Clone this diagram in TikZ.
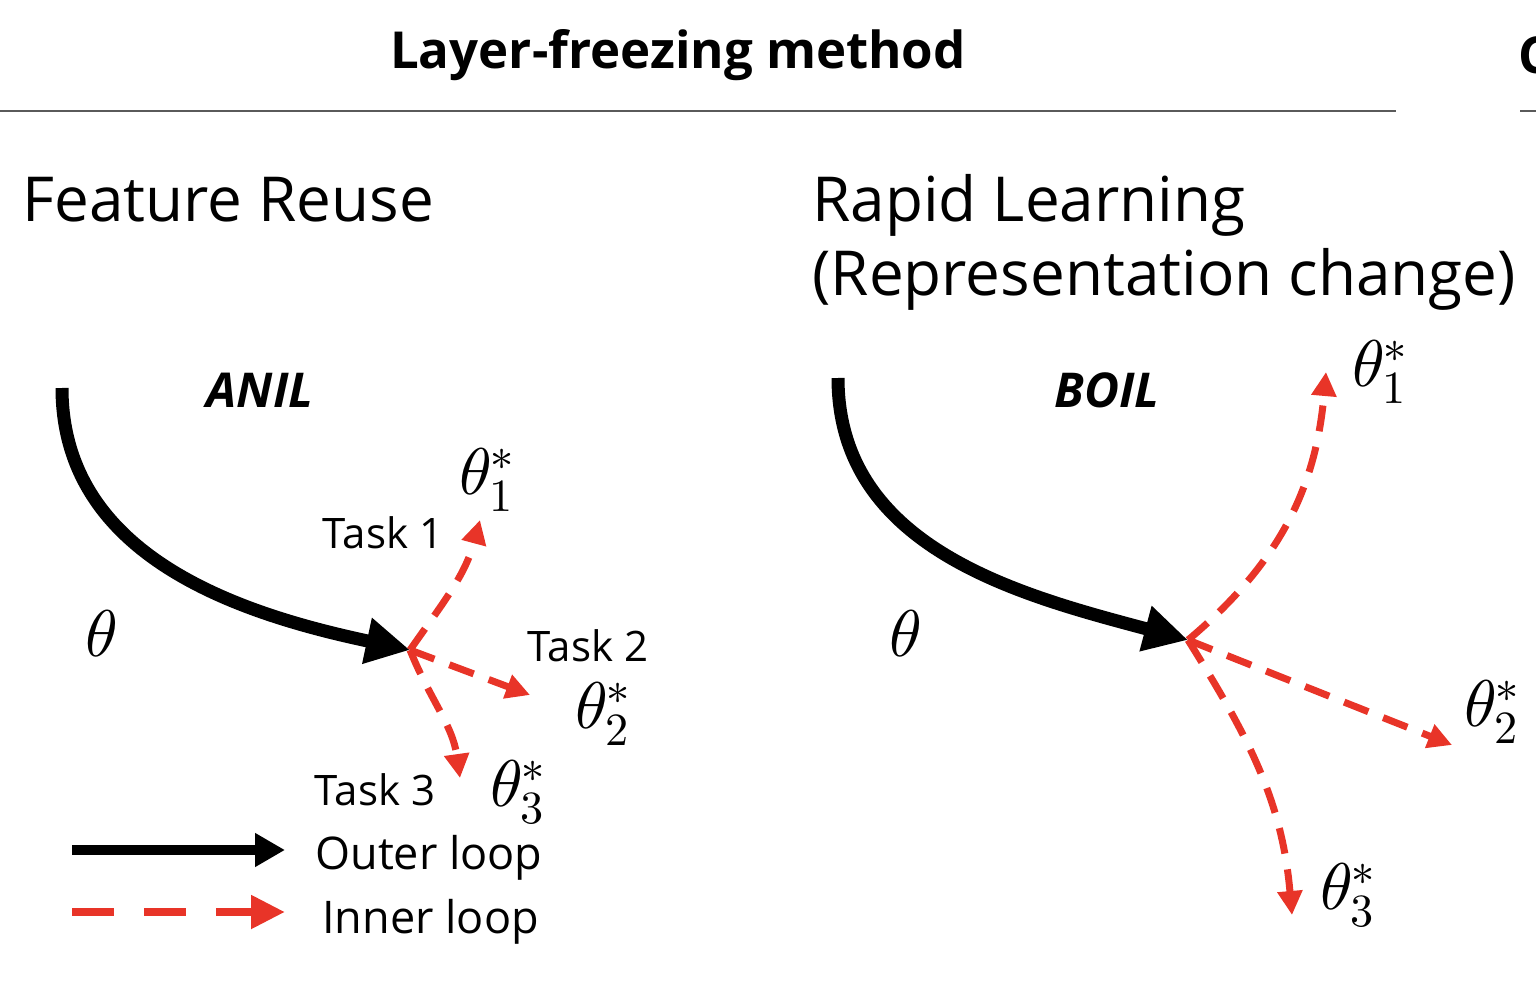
\documentclass[tikz,border=0pt]{standalone}
\usepackage{fontspec}
\usepackage{unicode-math}
\setmainfont{Open Sans}
\setmathfont{Latin Modern Math}
\usetikzlibrary{arrows.meta}
\definecolor{lred}{RGB}{232,52,40}
\definecolor{rulegray}{RGB}{90,90,90}
\tikzset{
  outerarr/.style={line width=6.5pt, -{Triangle[length=22pt,width=22pt]}},
  innerarr/.style={draw=lred, line width=3.5pt, dash pattern=on 13pt off 8pt, -{Triangle[length=12pt,width=12pt]}},
  tasklbl/.style={font=\fontsize{21}{25}\selectfont, inner sep=0pt},
  legendlbl/.style={font=\fontsize{22.5}{27}\selectfont, inner sep=0pt, anchor=west},
  thlbl/.style={font=\fontsize{33}{38}\selectfont, inner sep=0pt},
  thbase/.style={font=\fontsize{33}{38}\selectfont, inner sep=0pt},
  headlbl/.style={font=\fontsize{31}{36}\selectfont, inner sep=0pt, anchor=base west},
  algolbl/.style={font=\fontsize{24}{28}\selectfont\bfseries\itshape, inner sep=0pt},
}
\begin{document}
\begin{tikzpicture}[x=0.5pt, y=0.5pt, yscale=1, xscale=1]
\useasboundingbox (0, 0) rectangle (1536, 998);
%Header
\node (title) [font=\fontsize{25.5}{30}\selectfont\bfseries, inner sep=0pt] at (678, 943) {Layer-freezing method};
\node (nextttl) [font=\fontsize{25.5}{30}\selectfont\bfseries, inner sep=0pt, anchor=west] at (1518, 943) {C};
\draw [rulegray, line width=1pt] (0, 887) -- (1396, 887);
\draw [rulegray, line width=1pt] (1520, 887) -- (1536, 887);
\node (reuse) [headlbl] at (22, 776) {Feature Reuse};
\node (rapid) [headlbl] at (812, 776) {Rapid Learning};
\node (repr) [headlbl] at (812, 703) {(Representation change)};
%ANIL
\node (anil) [algolbl] at (260, 608) {ANIL};
\coordinate (sa) at (62, 610);
\coordinate (ca) at (410, 348);
\coordinate (t1a) at (480, 478);
\coordinate (t2a) at (530, 303);
\coordinate (t3a) at (460, 220);
\draw [outerarr] (sa) to[out=-90, in=168] (ca);
\draw [innerarr] (ca) to[out=55, in=-105] (t1a);
\draw [innerarr] (ca) -- (t2a);
\draw [innerarr] (ca) to[out=-68, in=98] (t3a);
\node (tha) [thbase] at (101, 364) {$\theta$};
\node (task1) [tasklbl] at (383, 465) {Task 1};
\node (th1a) [thlbl] at (487, 518) {$\theta_1^*$};
\node (task2) [tasklbl] at (588, 352) {Task 2};
\node (th2a) [thlbl] at (603, 284) {$\theta_2^*$};
\node (task3) [tasklbl] at (375, 208) {Task 3};
\node (th3a) [thlbl] at (518, 206) {$\theta_3^*$};
%BOIL
\node (boil) [algolbl] at (1107, 608) {BOIL};
\coordinate (sb) at (838, 620);
\coordinate (cb) at (1188, 358);
\coordinate (t1b) at (1326, 626);
\coordinate (t2b) at (1452, 253);
\coordinate (t3b) at (1292, 83);
\draw [outerarr] (sb) to[out=-90, in=165] (cb);
\draw [innerarr] (cb) to[out=40, in=-95] (t1b);
\draw [innerarr] (cb) -- (t2b);
\draw [innerarr] (cb) to[out=-58, in=95] (t3b);
\node (thb) [thbase] at (905, 364) {$\theta$};
\node (th1b) [thlbl] at (1380, 626) {$\theta_1^*$};
\node (th2b) [thlbl] at (1492, 286) {$\theta_2^*$};
\node (th3b) [thlbl] at (1348, 103) {$\theta_3^*$};
%Legend
\coordinate (lo1) at (72, 148);
\coordinate (lo2) at (285, 148);
\coordinate (li1) at (72, 86);
\coordinate (li2) at (285, 86);
\draw [line width=5pt, -{Triangle[length=15pt,width=16pt]}] (lo1) -- (lo2);
\draw [draw=lred, line width=4pt, dash pattern=on 21pt off 15pt, -{Triangle[length=17pt,width=16pt]}] (li1) -- (li2);
\node (outerl) [legendlbl] at (315, 140) {Outer loop};
\node (innerl) [legendlbl] at (322, 76) {Inner loop};
\end{tikzpicture}
\end{document}
